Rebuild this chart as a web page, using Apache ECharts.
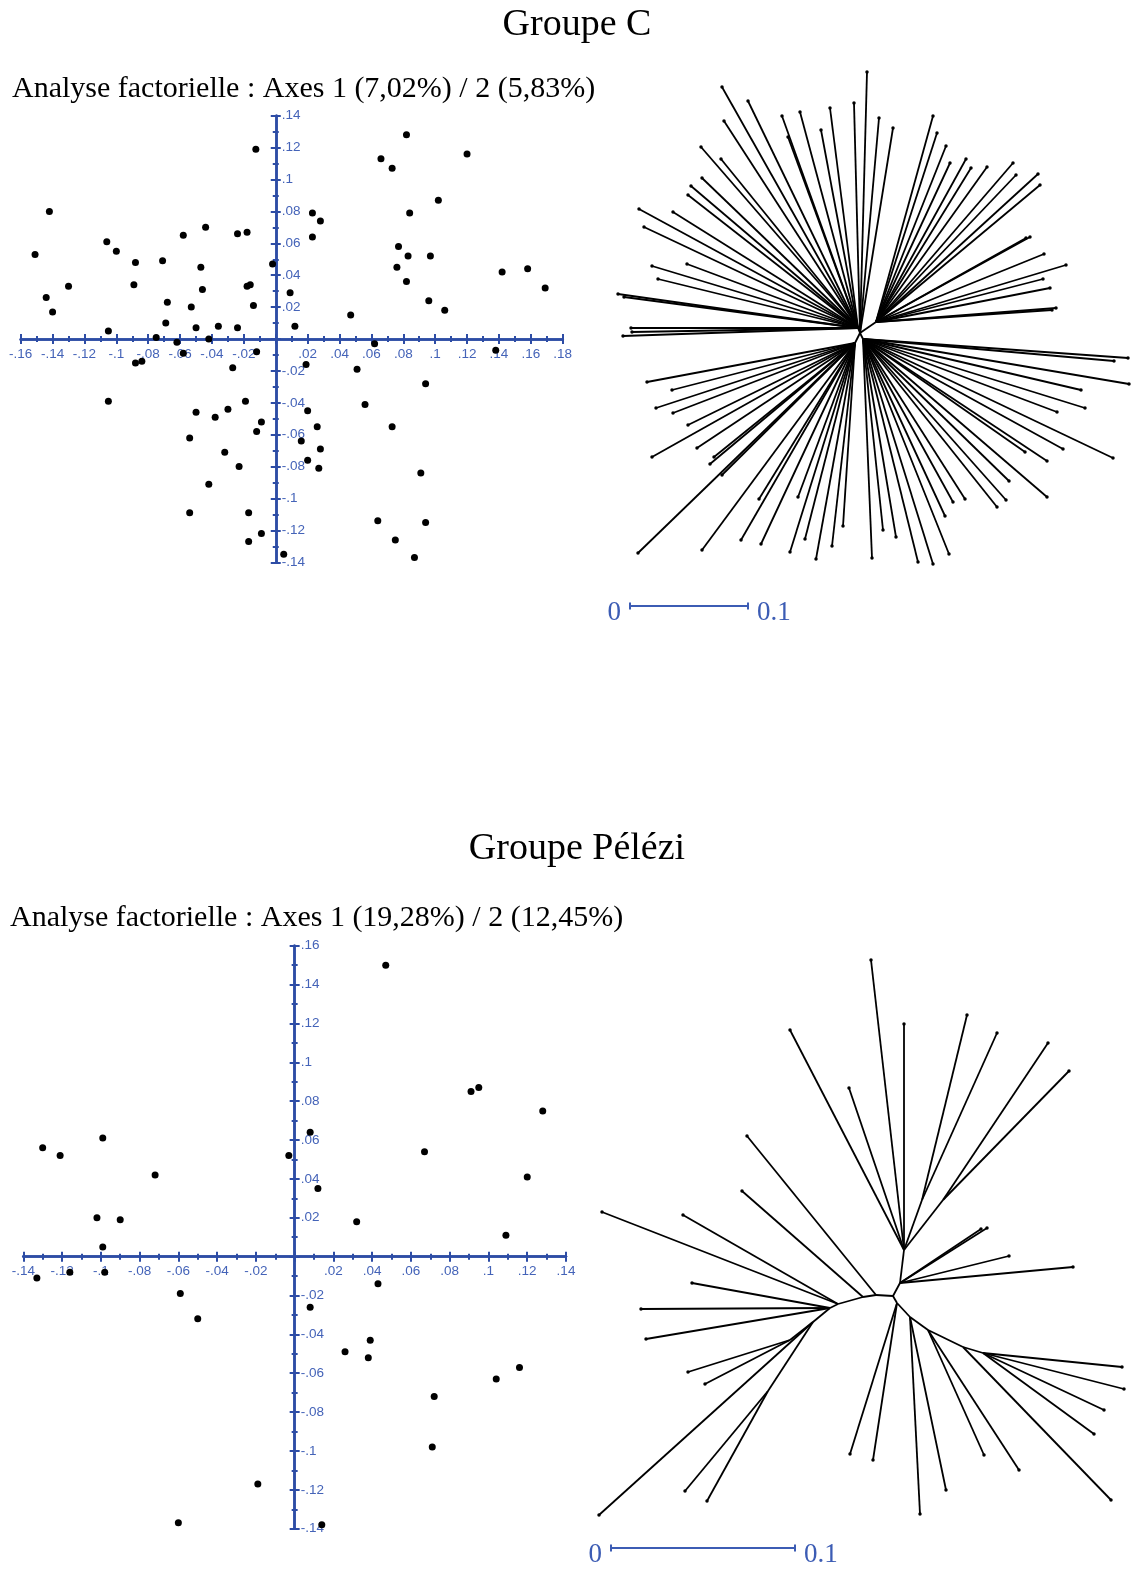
<!DOCTYPE html>
<html><head><meta charset="utf-8">
<script src="https://cdn.jsdelivr.net/npm/echarts@6/dist/echarts.min.js"></script>
<style>html,body{margin:0;padding:0;background:#fff}#c{width:1133px;height:1571px}</style>
</head><body><div id="c"></div>
<script>
// ---------- DATA ----------
// Groupe C : factorial analysis scores (axis 1, axis 2)
const groupCScores = [
 [-0.0125,0.119],[-0.142,0.080],[-0.151,0.053],[-0.106,0.061],[-0.100,0.055],[-0.044,0.070],[-0.058,0.065],[-0.024,0.066],
 [-0.018,0.067],[-0.088,0.048],[-0.071,0.049],[-0.047,0.045],[-0.002,0.047],[-0.130,0.033],[-0.089,0.034],[-0.046,0.031],
 [-0.018,0.033],[-0.016,0.034],[-0.144,0.026],[-0.140,0.017],[-0.068,0.023],[-0.053,0.020],[-0.014,0.021],[0.009,0.029],
 [-0.105,0.005],[-0.069,0.010],[-0.050,0.007],[-0.036,0.008],[-0.024,0.007],[0.012,0.008],[-0.075,0.001],[-0.062,-0.002],
 [-0.042,0.000],[-0.058,-0.009],[-0.012,-0.008],[-0.088,-0.015],[-0.084,-0.014],[-0.027,-0.018],
 [-0.105,-0.039],[-0.050,-0.046],[-0.038,-0.049],[-0.030,-0.044],[-0.019,-0.039],[-0.009,-0.052],[-0.012,-0.058],[-0.054,-0.062],
 [-0.032,-0.071],[-0.023,-0.080],[-0.042,-0.091],[-0.054,-0.109],[-0.017,-0.109],[-0.009,-0.122],[-0.017,-0.127],[0.005,-0.135],
 [0.082,0.128],[0.120,0.116],[0.066,0.113],[0.073,0.107],[0.102,0.087],[0.023,0.079],[0.028,0.074],[0.084,0.079],
 [0.023,0.064],[0.077,0.058],[0.083,0.052],[0.097,0.052],[0.076,0.045],[0.142,0.042],[0.158,0.044],[0.169,0.032],
 [0.082,0.036],[0.096,0.024],[0.106,0.018],[0.047,0.015],[0.062,-0.003],[0.138,-0.007],[0.019,-0.016],[0.051,-0.019],
 [0.094,-0.028],[0.056,-0.041],[0.020,-0.045],[0.026,-0.055],[0.073,-0.055],[0.016,-0.064],[0.028,-0.069],[0.020,-0.076],
 [0.027,-0.081],[0.091,-0.084],[0.064,-0.114],[0.094,-0.115],[0.075,-0.126],[0.087,-0.137]
];
// Groupe Pélézi : factorial analysis scores
const peleziScores = [
 [-0.130,0.056],[-0.121,0.052],[-0.099,0.061],[-0.072,0.042],[-0.003,0.052],[-0.102,0.020],[-0.090,0.019],[-0.099,0.005],
 [0.047,0.150],[0.091,0.085],[0.095,0.087],[0.128,0.075],[0.008,0.064],[0.067,0.054],[0.012,0.035],[0.120,0.041],
 [0.032,0.018],[0.109,0.011],
 [-0.133,-0.011],[-0.116,-0.008],[-0.098,-0.008],[-0.059,-0.019],[-0.050,-0.032],[-0.019,-0.117],[-0.060,-0.137],
 [0.043,-0.014],[0.008,-0.026],[0.039,-0.043],[0.026,-0.049],[0.038,-0.052],[0.116,-0.057],[0.104,-0.063],[0.072,-0.072],
 [0.071,-0.098],[0.014,-0.138]
];
// axis ranges [min, max, step]
const groupCXRange = [-0.16, 0.18, 0.02];
const groupCYRange = [-0.14, 0.14, 0.02];
const peleziXRange = [-0.14, 0.14, 0.02];
const peleziYRange = [-0.14, 0.16, 0.02];

// Trees (unrooted, layout units). Internal nodes: [name, parent, x, y]; tips: [parent, x, y]
const treeCInternal = [['R',null,860,333],['UL','R',858,328],['LL','R',855,343],['UR','R',876,322],['LR','R',863,339]];
const treeCTips = [
 ['R',867,72],['R',854,103],['R',879,118],['R',893,128],
 ['UL',830,108],['UL',821,130],['UL',800,112],['UL',782,116],['UL',788,137],['UL',748,101],['UL',722,87],['UL',724,121],
 ['UL',701,147],['UL',721,159],['UL',702,178],['UL',691,186],['UL',688,195],['UL',639,209],['UL',673,212],['UL',644,227],
 ['UL',652,266],['UL',687,264],['UL',658,279],['UL',618,294],['UL',624,297],['UL',631,328],['UL',632,332],['UL',623,336],
 ['LL',647,382],['LL',672,390],['LL',656,408],['LL',673,413],['LL',688,425],['LL',652,457],['LL',697,448],['LL',714,457],
 ['LL',710,464],['LL',722,475],['LL',638,553],['LL',702,550],['LL',741,540],['LL',759,499],['LL',761,544],['LL',798,497],
 ['LL',790,552],['LL',805,539],['LL',816,559],['LL',832,546],['LL',843,526],
 ['UR',933,116],['UR',937,133],['UR',946,146],['UR',950,163],['UR',966,159],['UR',971,168],['UR',987,167],['UR',1013,163],
 ['UR',1016,175],['UR',1038,174],['UR',1040,185],['UR',1030,237],['UR',1026,238],['UR',1044,254],['UR',1066,265],['UR',1043,279],
 ['UR',1050,288],['UR',1056,308],['UR',1052,310],
 ['LR',1128,358],['LR',1114,361],['LR',1129,384],['LR',1081,390],['LR',1085,408],['LR',1057,412],['LR',1113,458],['LR',1063,449],
 ['LR',1047,461],['LR',1025,452],['LR',1047,497],['LR',1009,481],['LR',1006,500],['LR',997,507],['LR',965,499],['LR',953,502],
 ['LR',945,516],['LR',949,554],['LR',933,564],['LR',918,562],['LR',896,537],['LR',883,530],['LR',872,558]
];
const treeCScaleBar = [[630,606],[748,606]];

const treePInternal = [
 ['N0',null,893,1296],['Ld','N0',876,1295],['Le','Ld',863,1297],['LH','Le',838,1304],['LH2','LH',830,1308],
 ['LL1','LH2',813,1322],['KL','LL1',790,1340],['OP','LL1',768,1391],
 ['M1','N0',900,1283],['UH','M1',904,1250],['ST','UH',922,1200],['UV','UH',943,1200],
 ['D0','N0',897,1303],['n1','D0',910,1317],['n2','n1',928,1330],['n3','n2',963,1347],['n4','n3',983,1353]
];
const treePTips = [
 ['Ld',747,1136],['Le',742,1191],['LH',602,1212],['LH',683,1215],['LH2',692,1283],['LH2',641,1309],['LH2',646,1339],
 ['LL1',599,1515],['KL',688,1372],['KL',705,1384],['OP',685,1491],['OP',707,1501],
 ['UH',871,960],['UH',790,1030],['UH',849,1088],['UH',904,1024],['ST',967,1015],['ST',997,1033],['UV',1048,1043],['UV',1069,1071],
 ['M1',987,1228],['M1',981,1229],['M1',1009,1256],['M1',1073,1267],
 ['D0',850,1454],['D0',873,1460],['n1',920,1514],['n1',946,1490],['n2',984,1455],['n2',1019,1470],['n3',1111,1500],
 ['n4',1122,1367],['n4',1124,1389],['n4',1104,1410],['n4',1094,1434]
];
const treePScaleBar = [[611,1548],[795,1548]];
const scaleBarLabels = ['0','0.1'];

const titles = ['Groupe C','Groupe Pélézi'];
const subtitles = ['Analyse factorielle : Axes 1 (7,02%) / 2 (5,83%)','Analyse factorielle : Axes 1 (19,28%) / 2 (12,45%)'];

// ---------- BUILD ----------
const BLUE = '#2d4ca5', LBLUE = '#4463b8', SBLUE = '#3c5cb4';
function tickFmt(v){ if (Math.abs(v) < 1e-9) return ''; return String(Math.round(v*100)/100).replace('0.', '.'); }

const scatterGrids = [
  {left:20.7, top:115.7, width:542, height:446.6},
  {left:23.3, top:945.7, width:542.7, height:583}
];

// cross-shaped axes through the origin: each axis is drawn twice (ticks on both sides)
function scatterAxes(g, rect, xr, yr){
  const common = (r) => ({type:'value', gridIndex:g, min:r[0], max:r[1], interval:r[2], scale:false,
    splitLine:{show:false}, minorSplitLine:{show:false}});
  const line = {show:true, onZero:false, lineStyle:{color:BLUE, width:2.5}};
  const tick = {show:true, length:5, lineStyle:{color:BLUE, width:2}};
  const minor = {show:true, splitNumber:2, length:3, lineStyle:{color:BLUE, width:2}};
  const lab = {show:true, formatter:tickFmt, color:LBLUE, fontSize:13.5, fontFamily:'Liberation Sans', showMinLabel:true, showMaxLabel:true};
  const fromBottom = rect.height * (0 - yr[0]) / (yr[1] - yr[0]);
  const fromTop = rect.height - fromBottom;
  const fromLeft = rect.width * (0 - xr[0]) / (xr[1] - xr[0]);
  const fromRight = rect.width - fromLeft;
  const xs = [
    Object.assign(common(xr), {position:'bottom', offset:-fromBottom, axisLine:line, axisTick:tick, minorTick:minor, axisLabel:Object.assign({margin:8}, lab)}),
    Object.assign(common(xr), {position:'top', offset:-fromTop, axisLine:line, axisTick:tick, minorTick:minor, axisLabel:{show:false}})
  ];
  const ys = [
    Object.assign(common(yr), {position:'left', offset:-fromLeft, axisLine:line, axisTick:tick, minorTick:minor, axisLabel:Object.assign({inside:true, margin:6}, lab)}),
    Object.assign(common(yr), {position:'right', offset:-fromRight, axisLine:line, axisTick:tick, minorTick:minor, axisLabel:{show:false}})
  ];
  return {xs, ys};
}
function treeAxes(g, xr, yr){
  return {
    x:{type:'value', gridIndex:g, min:xr[0], max:xr[1], show:false},
    y:{type:'value', gridIndex:g, min:yr[0], max:yr[1], inverse:true, show:false}
  };
}
function treeEdges(internal, tips){
  const pos = {};
  internal.forEach(n => pos[n[0]] = [n[2], n[3]]);
  const edges = [];
  internal.forEach(n => { if (n[1]) edges.push({coords:[pos[n[1]], pos[n[0]]]}); });
  tips.forEach(t => edges.push({coords:[pos[t[0]], [t[1], t[2]]]}));
  return edges;
}

const sA = scatterAxes(0, scatterGrids[0], groupCXRange, groupCYRange);
const tA = treeAxes(1, [600,1133], [60,640]);
const sB = scatterAxes(2, scatterGrids[1], peleziXRange, peleziYRange);
const tB = treeAxes(3, [580,1133], [940,1571]);

const xAxis = [sA.xs[0], sA.xs[1], tA.x, sB.xs[0], sB.xs[1], tB.x];
const yAxis = [sA.ys[0], sA.ys[1], tA.y, sB.ys[0], sB.ys[1], tB.y];

function treeSeries(xi, internal, tips, bar){
  return [
    {type:'lines', coordinateSystem:'cartesian2d', xAxisIndex:xi, yAxisIndex:xi, polyline:false, silent:true,
     lineStyle:{color:'#000', width:1.8, opacity:1, curveness:0}, effect:{show:false}, data:treeEdges(internal, tips), z:3},
    {type:'scatter', xAxisIndex:xi, yAxisIndex:xi, symbolSize:3.5, itemStyle:{color:'#000', opacity:1}, silent:true,
     data:tips.map(t => [t[1], t[2]]), z:4},
    {type:'lines', coordinateSystem:'cartesian2d', xAxisIndex:xi, yAxisIndex:xi, polyline:false, silent:true,
     lineStyle:{color:SBLUE, width:2, opacity:1}, data:[{coords:bar}], z:3},
    {type:'scatter', xAxisIndex:xi, yAxisIndex:xi, symbol:'rect', symbolSize:[2,7], itemStyle:{color:SBLUE, opacity:1}, silent:true, z:4,
     data:bar.map((p,i) => ({value:p, label:{show:true, formatter:scaleBarLabels[i], position:i===0?'left':'right',
       distance:8, offset:[0,7], color:SBLUE, fontSize:27, fontFamily:'Liberation Serif'}}))}
  ];
}

const option = {
  animation:false,
  backgroundColor:'#fff',
  grid:[
    Object.assign({outerBoundsMode:'none', containLabel:false}, scatterGrids[0]),
    {left:600, top:60, width:533, height:580, outerBoundsMode:'none', containLabel:false},
    Object.assign({outerBoundsMode:'none', containLabel:false}, scatterGrids[1]),
    {left:580, top:940, width:553, height:631, outerBoundsMode:'none', containLabel:false}
  ],
  xAxis, yAxis,
  graphic:[
    {type:'text', x:577, y:25, style:{text:titles[0], font:'38px "Liberation Serif"', fill:'#000', align:'center', verticalAlign:'middle'}},
    {type:'text', x:12, y:89, style:{text:subtitles[0], font:'30px "Liberation Serif"', fill:'#000', align:'left', verticalAlign:'middle'}},
    {type:'text', x:577, y:849, style:{text:titles[1], font:'38px "Liberation Serif"', fill:'#000', align:'center', verticalAlign:'middle'}},
    {type:'text', x:10, y:918, style:{text:subtitles[1], font:'30px "Liberation Serif"', fill:'#000', align:'left', verticalAlign:'middle'}}
  ],
  series:[
    {type:'scatter', xAxisIndex:0, yAxisIndex:0, symbolSize:7, itemStyle:{color:'#000', opacity:1}, data:groupCScores, z:5},
    {type:'scatter', xAxisIndex:3, yAxisIndex:3, symbolSize:7, itemStyle:{color:'#000', opacity:1}, data:peleziScores, z:5}
  ].concat(treeSeries(2, treeCInternal, treeCTips, treeCScaleBar), treeSeries(5, treePInternal, treePTips, treePScaleBar))
};
const chart = echarts.init(document.getElementById('c'), null, {renderer:'canvas'});
chart.setOption(option);
</script></body></html>
